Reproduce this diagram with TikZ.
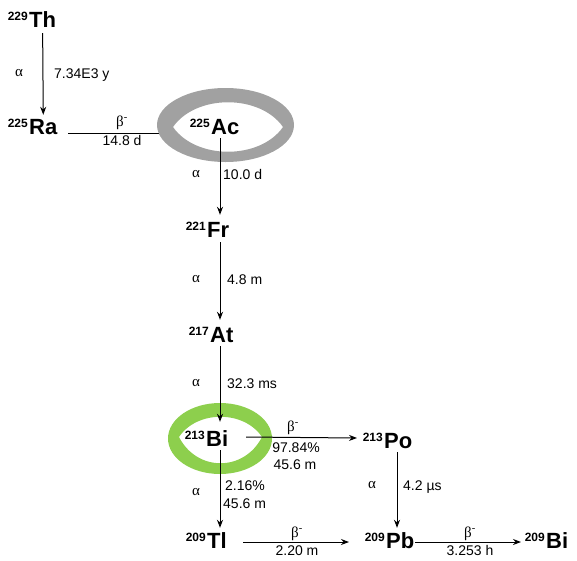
\documentclass[tikz,border=0pt]{standalone}
\usepackage{fontspec}
\setmainfont{Liberation Sans}
\newfontfamily\serfont{Liberation Serif}
\usetikzlibrary{calc,arrows.meta}
\definecolor{ringgrey}{RGB}{161,161,161}
\definecolor{ringgreen}{RGB}{141,207,77}
\begin{document}
\begin{tikzpicture}[x=1pt,y=-1pt,
  el/.style={anchor=base west,inner sep=0pt,text height=16pt,text depth=0pt,
    font=\bfseries\fontsize{22}{22}\selectfont},
  mass/.style={anchor=base east,inner sep=0pt,font=\bfseries\fontsize{12}{12}\selectfont},
  mode/.style={anchor=base,inner sep=0pt,font=\serfont\fontsize{15}{15}\selectfont},
  hl/.style={anchor=base west,inner sep=0pt,font=\fontsize{14}{14}\selectfont},
  hlc/.style={anchor=base,inner sep=0pt,font=\fontsize{14}{14}\selectfont},
  arr/.style={draw=black,line width=1pt,-{Stealth[length=8pt,width=6pt]}},
  ring/.style={even odd rule}]
\useasboundingbox (0,0) rectangle (577,560);

% nuclides
\node[el] (Th) at (29,27) {Th};
\node[el] (Ra) at (29,134) {Ra};
\node[el] (Ac) at (211,134) {Ac};
\node[el] (Fr) at (207,237) {Fr};
\node[el] (At) at (210,342) {At};
\node[el] (Bi) at (206,446) {Bi};
\node[el] (Po) at (384,448) {Po};
\node[el] (Tl) at (207,548) {Tl};
\node[el] (Pb) at (386,548) {Pb};
\node[el] (BiB) at (546,548) {Bi};

\node[mass] (mTh) at ([xshift=-1pt,yshift=7pt]Th.base west) {229};
\node[mass] (mRa) at ([xshift=-1pt,yshift=7pt]Ra.base west) {225};
\node[mass] (mAc) at ([xshift=-1pt,yshift=7pt]Ac.base west) {225};
\node[mass] (mFr) at ([xshift=-1pt,yshift=7pt]Fr.base west) {221};
\node[mass] (mAt) at ([xshift=-1pt,yshift=7pt]At.base west) {217};
\node[mass] (mBi) at ([xshift=-1pt,yshift=7pt]Bi.base west) {213};
\node[mass] (mPo) at ([xshift=-1pt,yshift=7pt]Po.base west) {213};
\node[mass] (mTl) at ([xshift=-1pt,yshift=7pt]Tl.base west) {209};
\node[mass] (mPb) at ([xshift=-1pt,yshift=7pt]Pb.base west) {209};
\node[mass] (mBiB) at ([xshift=-1pt,yshift=7pt]BiB.base west) {209};

\coordinate (colA) at (220,0);
\coordinate (colB) at (397,0);

% Ra -> Ac (under the grey ring)
\draw[arr] ($(Ra.base west)+(39,-1)$) -- ($(Ac.base west)+(-34,-1)$);

% rings
\fill[ringgrey,ring] (225.5,125) ellipse [x radius=68.5pt, y radius=37pt]
  (173,127) .. controls (196,94) and (260,94) .. (283,127)
  .. controls (260,160) and (196,160) .. (173,127) -- cycle;
\fill[ringgreen,ring] (220,438.5) ellipse [x radius=52pt, y radius=35.5pt]
  (179,437) .. controls (197,410) and (244,410) .. (262,437)
  .. controls (244,472) and (197,472) .. (179,437) -- cycle;

% decays
\draw[arr] ([yshift=-6pt]Th.south) -- ([yshift=3pt]Ra.north);
\draw[arr] ([yshift=-4pt]Ac.south -| colA) -- ([yshift=6pt]Fr.north -| colA);
\draw[arr] ([yshift=-5pt]Fr.south -| colA) -- ([yshift=6pt]At.north -| colA);
\draw[arr] ([yshift=-4pt]At.south -| colA) -- ([yshift=8pt]Bi.north -| colA);
\draw[arr] ([yshift=-4pt]Bi.south -| colA) -- ([yshift=4pt]Tl.north -| colA);
\draw[arr] ([yshift=-4pt]Po.south -| colB) -- ([yshift=4pt]Pb.north -| colB);
\draw[arr] ($(Bi.base west)+(40,-9)$) -- ($(Po.base west)+(-27,-10)$);
\draw[arr] ($(Tl.base west)+(36,-6)$) -- ($(Pb.base west)+(-37,-6)$);
\draw[arr] ($(Pb.base west)+(29,-6)$) -- ($(BiB.base west)+(-25,-6)$);

% labels
\node[mode] (a1) at (19,76) {α};
\node[hl] (t1) at (54,78) {7.34E3 y};
\node[mode] (b1) at (122,126) {β\textsuperscript{-}};
\node[hlc] (t2) at (122,145) {14.8 d};
\node[mode] (a2) at (196,177) {α};
\node[hl] (t3) at (223,179) {10.0 d};
\node[mode] (a3) at (196,282) {α};
\node[hl] (t4) at (227,284) {4.8 m};
\node[mode] (a4) at (196,386) {α};
\node[hl] (t5) at (227,388) {32.3 ms};
\node[mode] (b2) at (293,431) {β\textsuperscript{-}};
\node[hlc] (t6) at (296,452) {97.84\%};
\node[hlc] (t7) at (295,469) {45.6 m};
\node[mode] (a5) at (196,495) {α};
\node[hl] (t8) at (225,490) {2.16\%};
\node[hl] (t9) at (223,508) {45.6 m};
\node[mode] (a6) at (372,488) {α};
\node[hl] (t10) at (403,490) {4.2 µs};
\node[mode] (b3) at (297,537) {β\textsuperscript{-}};
\node[hlc] (t11) at (297,555) {2.20 m};
\node[mode] (b4) at (470,537) {β\textsuperscript{-}};
\node[hlc] (t12) at (470,555) {3.253 h};
\end{tikzpicture}
\end{document}
